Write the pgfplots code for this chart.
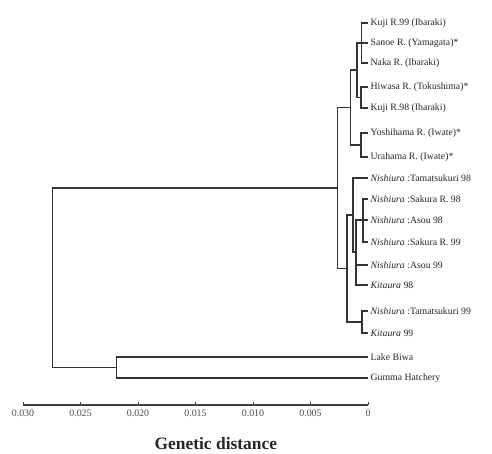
\documentclass[border=0pt]{standalone}
\usepackage{fontspec}
\setmainfont{Liberation Serif}
\usepackage{pgfplots}
\pgfplotsset{compat=1.18}
\begin{document}
\begin{tikzpicture}
\path[use as bounding box] (-23bp,-49bp) rectangle (469bp,405bp);
\begin{axis}[
  scale only axis,
  width=345bp, height=395bp,
  x dir=reverse, y dir=reverse,
  xmin=0, xmax=0.030, ymin=10, ymax=405,
  axis x line*=bottom, axis y line=none,
  xtick={0,0.005,0.010,0.015,0.020,0.025,0.030},
  xticklabels={0,0.005,0.010,0.015,0.020,0.025,0.030},
  scaled x ticks=false,
  xtick align=inside,
  major tick length=3.5bp,
  x axis line style={black!75, line width=1.1bp},
  x tick style={black!75, line width=0.9bp},
  x tick label style={font=\fontsize{10}{10}\selectfont, text=black!70, yshift=-1bp},
  /pgf/number format/assume math mode=true,
  clip=false,
  tree/.style={black!80, line width=1.25bp, mark=none, solid},
]
% Upper group
\addplot[tree] coordinates {(0,23) (0.00057,23) (0.00057,63) (0,63)};
\addplot[tree] coordinates {(0.00057,43) (0,43)};
\addplot[tree] coordinates {(0,87) (0.00061,87) (0.00061,108) (0,108)};
\addplot[tree] coordinates {(0.00057,43) (0.00096,43) (0.00096,97.5) (0.00061,97.5)};
\addplot[tree] coordinates {(0,133) (0.00061,133) (0.00061,157) (0,157)};
\addplot[tree] coordinates {(0.00096,70) (0.00152,70) (0.00152,145) (0.00061,145)};
% Nishiura / Kitaura group
\addplot[tree] coordinates {(0,199) (0.00043,199) (0.00043,242) (0,242)};
\addplot[tree] coordinates {(0.00043,220) (0,220)};
\addplot[tree] coordinates {(0.00043,220) (0.00104,220) (0.00104,285) (0,285)};
\addplot[tree] coordinates {(0.00104,265) (0,265)};
\addplot[tree] coordinates {(0,178) (0.0013,178) (0.0013,252) (0.00104,252)};
\addplot[tree] coordinates {(0,311) (0.00052,311) (0.00052,333) (0,333)};
\addplot[tree] coordinates {(0.0013,215) (0.00183,215) (0.00183,322) (0.00052,322)};
\addplot[tree] coordinates {(0.00152,107.5) (0.00265,107.5) (0.00265,268.5) (0.00183,268.5)};
% Outgroup and root
\addplot[tree] coordinates {(0,357) (0.0219,357) (0.0219,378) (0,378)};
\addplot[tree] coordinates {(0.00265,188) (0.02743,188) (0.02743,367.5) (0.0219,367.5)};
% Leaf labels
\begin{scope}[every node/.style={anchor=west, inner sep=0pt, xshift=2.5bp, font=\fontsize{9.8}{9.8}\selectfont, text=black!85}]
\node at (axis cs:0,23) {Kuji R.99 (Ibaraki)};
\node at (axis cs:0,43) {Sanoe R. (Yamagata)*};
\node at (axis cs:0,63) {Naka R. (Ibaraki)};
\node at (axis cs:0,87) {Hiwasa R. (Tokushima)*};
\node at (axis cs:0,108) {Kuji R.98 (Ibaraki)};
\node at (axis cs:0,133) {Yoshihama R. (Iwate)*};
\node at (axis cs:0,157) {Urahama R. (Iwate)*};
\node at (axis cs:0,178) {\textit{Nishiura} :Tamatsukuri 98};
\node at (axis cs:0,199) {\textit{Nishiura} :Sakura R. 98};
\node at (axis cs:0,220) {\textit{Nishiura} :Asou 98};
\node at (axis cs:0,242) {\textit{Nishiura} :Sakura R. 99};
\node at (axis cs:0,265) {\textit{Nishiura} :Asou 99};
\node at (axis cs:0,285) {\textit{Kitaura} 98};
\node at (axis cs:0,311) {\textit{Nishiura} :Tamatsukuri 99};
\node at (axis cs:0,333) {\textit{Kitaura} 99};
\node at (axis cs:0,357) {Lake Biwa};
\node at (axis cs:0,378) {Gumma Hatchery};
\end{scope}
\node[anchor=base, inner sep=0pt, font=\fontsize{17.5}{17.5}\selectfont\bfseries, text=black!85] at (axis description cs:0.559,-0.112) {Genetic distance};
\end{axis}
\end{tikzpicture}
\end{document}
